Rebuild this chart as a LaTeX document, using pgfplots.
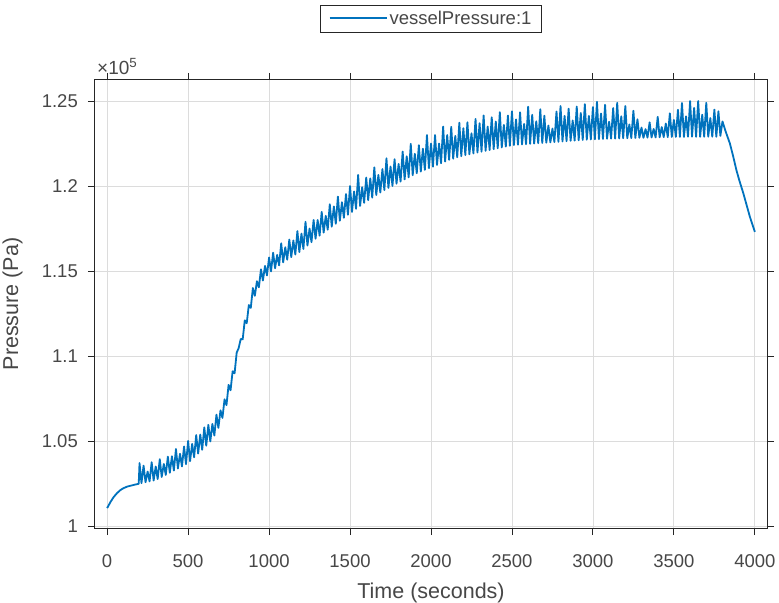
\documentclass[border=0pt]{standalone}
\usepackage{pgfplots}
\pgfplotsset{compat=1.18}
\usepackage{fontspec}
\setmainfont{Liberation Sans}
\definecolor{axc}{HTML}{262626}
\definecolor{gridc}{HTML}{DCDCDC}
\definecolor{mblue}{HTML}{0072BD}
\begin{document}
\begin{tikzpicture}
\useasboundingbox (-95bp,-75bp) rectangle (684bp,528bp);
\begin{axis}[
  at={(0,0)}, anchor=south west,
  scale only axis, width=672bp, height=448bp,
  xmin=-75, xmax=4075, ymin=0.9988, ymax=1.2624,
  xtick={0,500,1000,1500,2000,2500,3000,3500,4000},
  xticklabels={0,500,1000,1500,2000,2500,3000,3500,4000},
  ytick={1,1.05,1.1,1.15,1.2,1.25},
  yticklabels={1,1.05,1.1,1.15,1.2,1.25},
  tick align=outside,
  major tick length=7bp,
  tick style={color=axc, line width=0.9bp},
  axis line style={color=axc, line width=1bp},
  grid=major,
  major grid style={color=gridc, line width=0.8bp},
  ticklabel style={font=\fontsize{18.5bp}{22bp}\selectfont, text=axc!85},
  xticklabel style={anchor=north, inner sep=0pt, yshift=-19bp},
  yticklabel style={anchor=east, inner sep=0pt, xshift=-10bp},
  xlabel={Time (seconds)},
  ylabel={Pressure (Pa)},
  label style={font=\fontsize{21.5bp}{25bp}\selectfont, text=axc!85},
  xlabel style={at={(0.5,0)}, anchor=base, yshift=-70bp},
  ylabel style={at={(axis description cs:-0.1228,0.5)}, anchor=center},
  legend style={at={(0.5,1)}, anchor=south, yshift=48bp,
    draw=axc, fill=white,
    font=\fontsize{18.5bp}{22bp}\selectfont, text=axc!85,
    inner xsep=8bp, inner ysep=4bp},
  legend image code/.code={\draw[#1, line width=2bp] (0bp,0bp) -- (57bp,0bp);},
  clip=false,
]
\addplot[color=mblue, line width=1.8bp, line join=round] table[row sep=\\] {
x y\\
0 1.0105\\ 20 1.0140\\ 40 1.0170\\ 60 1.0192\\ 80 1.0210\\ 100 1.0222\\ 125 1.0232\\ 150 1.0238\\ 175 1.0244\\ 195 1.0248\\
200 1.0370\\ 212 1.0252\\ 225 1.0355\\ 237 1.0257\\ 250 1.0320\\ 262 1.0262\\ 275 1.0375\\ 287 1.0267\\
300 1.0350\\ 312 1.0276\\ 325 1.0393\\ 337 1.0288\\ 350 1.0365\\ 362 1.0300\\ 375 1.0408\\ 387 1.0313\\
400 1.0410\\ 412 1.0326\\ 425 1.0453\\ 437 1.0338\\ 450 1.0425\\ 462 1.0350\\ 475 1.0468\\ 487 1.0363\\
500 1.0500\\ 512 1.0381\\ 525 1.0483\\ 537 1.0404\\ 550 1.0535\\ 562 1.0426\\ 575 1.0538\\ 587 1.0448\\
600 1.0580\\ 612 1.0472\\ 625 1.0595\\ 637 1.0497\\ 650 1.0600\\ 662 1.0532\\ 675 1.0655\\ 687 1.0577\\
700 1.0680\\ 712 1.0636\\ 725 1.0745\\ 737 1.0711\\ 750 1.0830\\ 762 1.0798\\ 775 1.0910\\ 787 1.0898\\
800 1.1020\\ 812 1.1046\\ 825 1.1100\\ 837 1.1098\\ 850 1.1210\\ 862 1.1193\\ 875 1.1300\\ 887 1.1283\\
900 1.1400\\ 912 1.1354\\ 925 1.1440\\ 937 1.1404\\ 950 1.1510\\ 962 1.1444\\ 975 1.1530\\ 987 1.1474\\
1000 1.1580\\ 1012 1.1498\\ 1025 1.1608\\ 1037 1.1516\\ 1050 1.1595\\ 1062 1.1533\\ 1075 1.1663\\ 1087 1.1551\\
1100 1.1640\\ 1112 1.1567\\ 1125 1.1685\\ 1137 1.1582\\ 1150 1.1680\\ 1162 1.1597\\ 1175 1.1735\\ 1187 1.1612\\
1200 1.1720\\ 1212 1.1630\\ 1225 1.1790\\ 1237 1.1650\\ 1250 1.1750\\ 1262 1.1670\\ 1275 1.1800\\ 1287 1.1690\\
1300 1.1800\\ 1312 1.1708\\ 1325 1.1848\\ 1337 1.1726\\ 1350 1.1825\\ 1362 1.1743\\ 1375 1.1893\\ 1387 1.1761\\
1400 1.1880\\ 1412 1.1778\\ 1425 1.1938\\ 1437 1.1796\\ 1450 1.1905\\ 1462 1.1813\\ 1475 1.1953\\ 1487 1.1831\\
1500 1.2000\\ 1512 1.1848\\ 1525 1.1968\\ 1537 1.1866\\ 1550 1.2065\\ 1562 1.1883\\ 1575 1.1993\\ 1587 1.1901\\
1600 1.2050\\ 1612 1.1917\\ 1625 1.2045\\ 1637 1.1932\\ 1650 1.2110\\ 1662 1.1947\\ 1675 1.2065\\ 1687 1.1962\\
1700 1.2100\\ 1712 1.1976\\ 1725 1.2163\\ 1737 1.1989\\ 1750 1.2115\\ 1762 1.2001\\ 1775 1.2158\\ 1787 1.2014\\
1800 1.2130\\ 1812 1.2026\\ 1825 1.2203\\ 1837 1.2039\\ 1850 1.2175\\ 1862 1.2051\\ 1875 1.2248\\ 1887 1.2064\\
1900 1.2190\\ 1912 1.2075\\ 1925 1.2240\\ 1937 1.2085\\ 1950 1.2220\\ 1962 1.2095\\ 1975 1.2300\\ 1987 1.2105\\
2000 1.2250\\ 2012 1.2114\\ 2025 1.2300\\ 2037 1.2124\\ 2050 1.2250\\ 2062 1.2134\\ 2075 1.2350\\ 2087 1.2144\\
2100 1.2300\\ 2112 1.2154\\ 2125 1.2348\\ 2137 1.2161\\ 2150 1.2295\\ 2162 1.2169\\ 2175 1.2373\\ 2187 1.2176\\
2200 1.2340\\ 2212 1.2182\\ 2225 1.2375\\ 2237 1.2187\\ 2250 1.2310\\ 2262 1.2192\\ 2275 1.2395\\ 2287 1.2197\\
2300 1.2370\\ 2312 1.2202\\ 2325 1.2415\\ 2337 1.2207\\ 2350 1.2350\\ 2362 1.2212\\ 2375 1.2405\\ 2387 1.2217\\
2400 1.2380\\ 2412 1.2222\\ 2425 1.2435\\ 2437 1.2227\\ 2450 1.2360\\ 2462 1.2232\\ 2475 1.2415\\ 2487 1.2237\\
2500 1.2440\\ 2512 1.2241\\ 2525 1.2392\\ 2537 1.2243\\ 2550 1.2434\\ 2562 1.2245\\ 2575 1.2365\\ 2587 1.2246\\
2600 1.2467\\ 2612 1.2248\\ 2625 1.2419\\ 2637 1.2250\\ 2650 1.2381\\ 2662 1.2252\\ 2675 1.2452\\ 2687 1.2253\\
2700 1.2414\\ 2712 1.2255\\ 2725 1.2356\\ 2737 1.2257\\ 2750 1.2338\\ 2762 1.2259\\ 2775 1.2439\\ 2787 1.2260\\
2800 1.2471\\ 2812 1.2262\\ 2825 1.2413\\ 2837 1.2264\\ 2850 1.2455\\ 2862 1.2266\\ 2875 1.2386\\ 2887 1.2267\\
2900 1.2468\\ 2912 1.2269\\ 2925 1.2430\\ 2937 1.2271\\ 2950 1.2482\\ 2962 1.2273\\ 2975 1.2413\\ 2987 1.2274\\
3000 1.2465\\ 3012 1.2275\\ 3025 1.2496\\ 3037 1.2276\\ 3050 1.2427\\ 3062 1.2277\\ 3075 1.2478\\ 3087 1.2278\\
3100 1.2378\\ 3112 1.2279\\ 3125 1.2459\\ 3137 1.2279\\ 3150 1.2490\\ 3162 1.2280\\ 3175 1.2410\\ 3187 1.2281\\
3200 1.2471\\ 3212 1.2281\\ 3225 1.2362\\ 3237 1.2282\\ 3250 1.2443\\ 3262 1.2283\\ 3275 1.2393\\ 3287 1.2284\\
3300 1.2344\\ 3312 1.2284\\ 3325 1.2335\\ 3337 1.2285\\ 3350 1.2375\\ 3362 1.2286\\ 3375 1.2336\\ 3387 1.2286\\
3400 1.2407\\ 3412 1.2287\\ 3425 1.2347\\ 3437 1.2288\\ 3450 1.2368\\ 3462 1.2288\\ 3475 1.2428\\ 3487 1.2289\\
3500 1.2389\\ 3512 1.2289\\ 3525 1.2449\\ 3537 1.2289\\ 3550 1.2489\\ 3562 1.2289\\ 3575 1.2410\\ 3587 1.2290\\
3600 1.2500\\ 3612 1.2290\\ 3625 1.2460\\ 3637 1.2290\\ 3650 1.2500\\ 3662 1.2290\\ 3675 1.2420\\ 3687 1.2290\\
3700 1.2490\\ 3712 1.2290\\ 3725 1.2400\\ 3737 1.2290\\ 3750 1.2450\\ 3762 1.2290\\ 3775 1.2440\\ 3787 1.2295\\
3800 1.2380\\ 3820 1.2320\\ 3846 1.2250\\ 3866 1.2175\\ 3886 1.2094\\ 3905 1.2030\\ 3928 1.1960\\ 3950 1.1885\\ 3969 1.1820\\ 4000 1.1730\\
};
\addlegendentry{vesselPressure:1}
\node[anchor=base west, inner sep=0pt, text=axc!85, font=\fontsize{19bp}{22bp}\selectfont]
  at (rel axis cs:0,1) [xshift=2bp, yshift=5bp] {×10\textsuperscript{5}};
\end{axis}
\end{tikzpicture}
\end{document}
